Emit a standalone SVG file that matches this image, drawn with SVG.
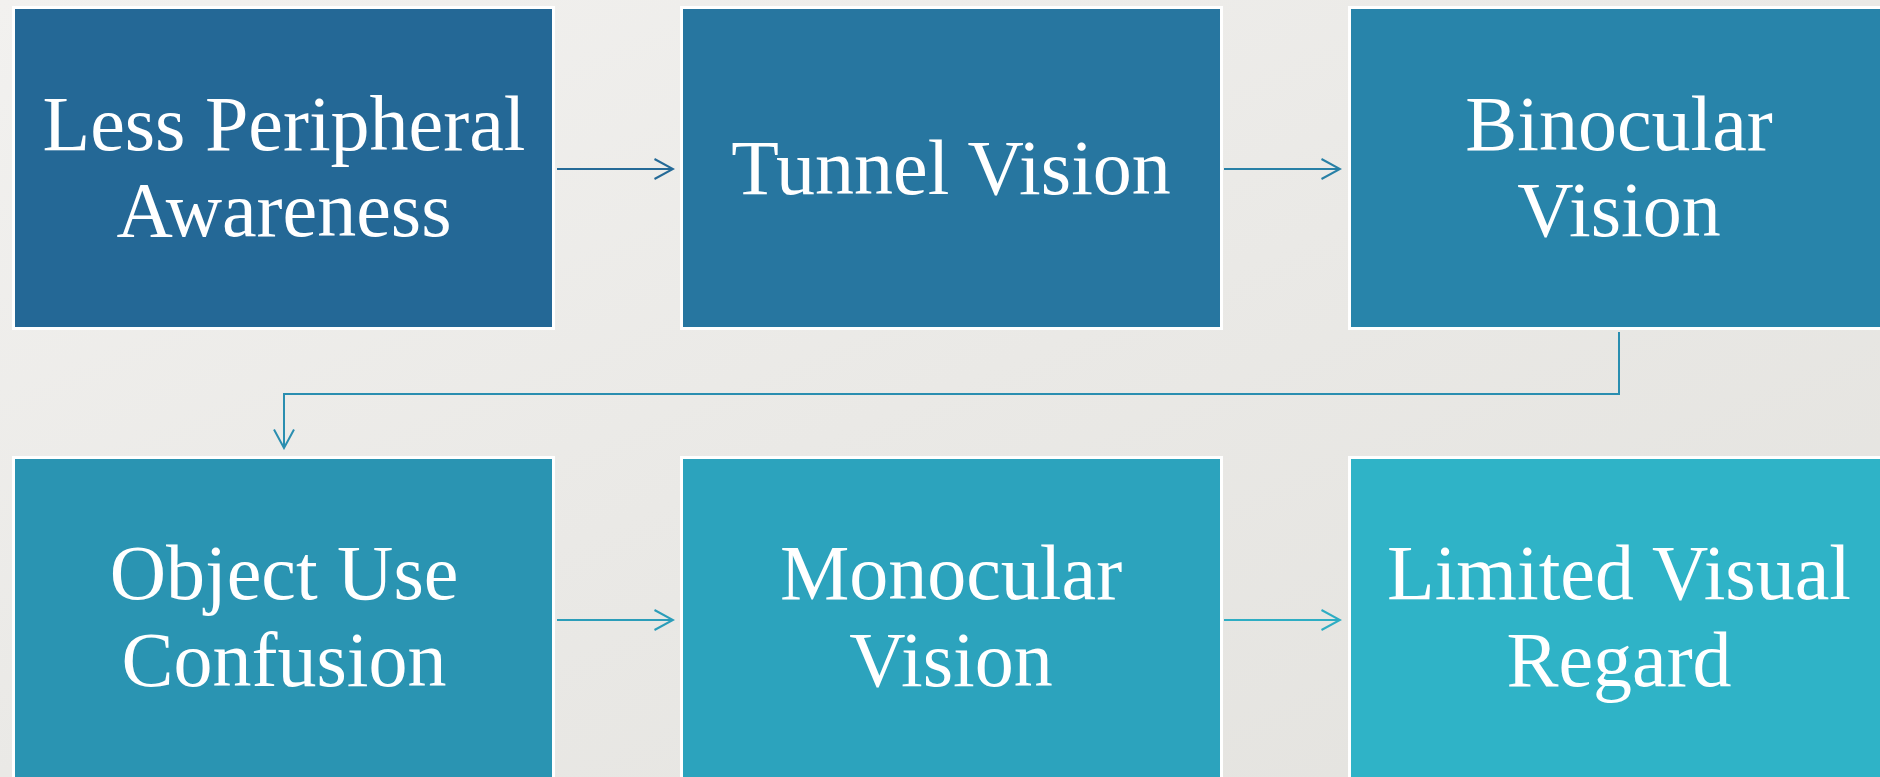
<svg xmlns="http://www.w3.org/2000/svg" width="1880" height="777" viewBox="0 0 1880 777">
  <defs>
    <linearGradient id="bg" x1="0" y1="0" x2="1" y2="1">
      <stop offset="0" stop-color="#f2f1ef"/>
      <stop offset="0.5" stop-color="#eae9e6"/>
      <stop offset="1" stop-color="#e3e2de"/>
    </linearGradient>
    <marker id="ah1" viewBox="0 0 22 22" refX="20" refY="11" markerWidth="22" markerHeight="22" markerUnits="userSpaceOnUse" orient="auto">
      <path d="M1.5,1 L20,11 L1.5,21" fill="none" stroke="#256a97" stroke-width="2"/>
    </marker>
    <marker id="ah2" viewBox="0 0 22 22" refX="20" refY="11" markerWidth="22" markerHeight="22" markerUnits="userSpaceOnUse" orient="auto">
      <path d="M1.5,1 L20,11 L1.5,21" fill="none" stroke="#2880a6" stroke-width="2"/>
    </marker>
    <marker id="ah3" viewBox="0 0 22 22" refX="20" refY="11" markerWidth="22" markerHeight="22" markerUnits="userSpaceOnUse" orient="auto">
      <path d="M1.5,1 L20,11 L1.5,21" fill="none" stroke="#2a8eb0" stroke-width="2"/>
    </marker>
    <marker id="ah4" viewBox="0 0 22 22" refX="20" refY="11" markerWidth="22" markerHeight="22" markerUnits="userSpaceOnUse" orient="auto">
      <path d="M1.5,1 L20,11 L1.5,21" fill="none" stroke="#2b9db9" stroke-width="2"/>
    </marker>
    <marker id="ah5" viewBox="0 0 22 22" refX="20" refY="11" markerWidth="22" markerHeight="22" markerUnits="userSpaceOnUse" orient="auto">
      <path d="M1.5,1 L20,11 L1.5,21" fill="none" stroke="#2eadc3" stroke-width="2"/>
    </marker>
  </defs>
  <style>
    .box { stroke: #ffffff; stroke-width: 3; }
    .label { font-family: "Liberation Serif", "DejaVu Serif", serif; font-size: 78px; fill: #ffffff; text-anchor: middle; }
    .conn { fill: none; stroke-width: 2; }
  </style>

  <rect x="0" y="0" width="1880" height="777" fill="url(#bg)"/>

  <!-- connectors -->
  <g id="connectors">
    <path class="conn" d="M557,169 H673" stroke="#256a97" marker-end="url(#ah1)"/>
    <path class="conn" d="M1224,169 H1340" stroke="#2880a6" marker-end="url(#ah2)"/>
    <path class="conn" d="M1619,332 V394 H284 V448" stroke="#2a8eb0" marker-end="url(#ah3)"/>
    <path class="conn" d="M557,620 H673" stroke="#2b9db9" marker-end="url(#ah4)"/>
    <path class="conn" d="M1224,620 H1340" stroke="#2eadc3" marker-end="url(#ah5)"/>
  </g>

  <!-- row 1 -->
  <g id="node-less-peripheral">
    <rect class="box" x="13.5" y="7.5" width="540" height="321" fill="#246896"/>
    <text class="label" x="284" y="150">Less Peripheral</text>
    <text class="label" x="284" y="236">Awareness</text>
  </g>
  <g id="node-tunnel-vision">
    <rect class="box" x="681.5" y="7.5" width="540" height="321" fill="#2776a0"/>
    <text class="label" x="951" y="194">Tunnel Vision</text>
  </g>
  <g id="node-binocular">
    <rect class="box" x="1349.5" y="7.5" width="540" height="321" fill="#2884aa"/>
    <text class="label" x="1619" y="150">Binocular</text>
    <text class="label" x="1619" y="236">Vision</text>
  </g>

  <!-- row 2 -->
  <g id="node-object-use">
    <rect class="box" x="13.5" y="457.5" width="540" height="330" fill="#2a94b2"/>
    <text class="label" x="284" y="599">Object Use</text>
    <text class="label" x="284" y="686">Confusion</text>
  </g>
  <g id="node-monocular">
    <rect class="box" x="681.5" y="457.5" width="540" height="330" fill="#2ca3bd"/>
    <text class="label" x="951" y="599">Monocular</text>
    <text class="label" x="951" y="686">Vision</text>
  </g>
  <g id="node-limited-visual">
    <rect class="box" x="1349.5" y="457.5" width="540" height="330" fill="#2fb3c7"/>
    <text class="label" x="1619" y="599">Limited Visual</text>
    <text class="label" x="1619" y="686">Regard</text>
  </g>
</svg>
